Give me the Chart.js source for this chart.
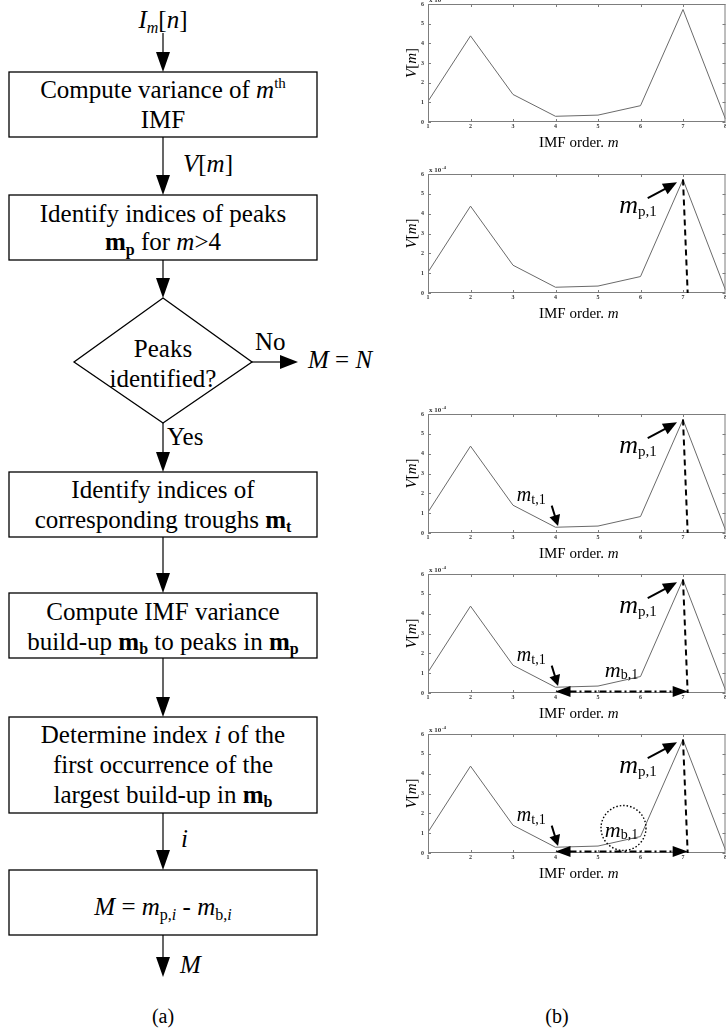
<!DOCTYPE html>
<html>
<head>
<meta charset="utf-8">
<script src="https://cdn.jsdelivr.net/npm/chart.js@4.4.1/dist/chart.umd.min.js"></script>
<style>
html,body{margin:0;padding:0;background:#fff;overflow:hidden;width:726px;height:1031px;}
#flow{position:absolute;left:0;top:0;}
.cw{position:absolute;left:360px;width:370px;}
tspan,text{fill:#000;}
</style>
</head>
<body>
<svg id="flow" width="726" height="1031" xmlns="http://www.w3.org/2000/svg">
 <g stroke="#000" stroke-width="1.3" fill="none">
  <rect x="9" y="72" width="308" height="65"/>
  <rect x="9" y="195" width="308" height="65"/>
  <polygon points="163,298 252,362 163,423 74,362"/>
  <rect x="9" y="472" width="308" height="65"/>
  <rect x="9" y="593" width="308" height="65"/>
  <rect x="9" y="717" width="308" height="96"/>
  <rect x="9" y="870" width="308" height="65"/>
 </g>
 <g id="arrows" stroke="#000" stroke-width="1.2" fill="#000"></g>
 <g font-family="'Liberation Serif','Times New Roman',serif" font-size="25" fill="#000">
  <g text-anchor="middle">
   <text x="163" y="28"><tspan font-style="italic">I</tspan><tspan font-style="italic" font-size="16" dy="5">m</tspan><tspan dy="-5">[</tspan><tspan font-style="italic">n</tspan>]</text>
   <text x="163" y="98">Compute variance of <tspan font-style="italic">m</tspan><tspan font-size="15" dy="-10">th</tspan></text>
   <text x="163" y="128">IMF</text>
   <text x="163" y="222">Identify indices of peaks</text>
   <text x="163" y="250"><tspan font-weight="bold">m</tspan><tspan font-weight="bold" font-size="16" dy="5">p</tspan><tspan dy="-5"> for </tspan><tspan font-style="italic">m</tspan>&gt;4</text>
   <text x="163" y="357">Peaks</text>
   <text x="163" y="387">identified?</text>
   <text x="163" y="498">Identify indices of</text>
   <text x="163" y="528">corresponding troughs <tspan font-weight="bold">m</tspan><tspan font-weight="bold" font-size="16" dy="4">t</tspan></text>
   <text x="163" y="620">Compute IMF variance</text>
   <text x="163" y="650">build-up <tspan font-weight="bold">m</tspan><tspan font-weight="bold" font-size="16" dy="4">b</tspan><tspan dy="-4"> to peaks in </tspan><tspan font-weight="bold">m</tspan><tspan font-weight="bold" font-size="16" dy="4">p</tspan></text>
   <text x="163" y="743">Determine index <tspan font-style="italic">i</tspan> of the</text>
   <text x="163" y="773">first occurrence of the</text>
   <text x="163" y="803">largest build-up in <tspan font-weight="bold">m</tspan><tspan font-weight="bold" font-size="16" dy="4">b</tspan></text>
   <text x="163" y="915"><tspan font-style="italic">M</tspan> = <tspan font-style="italic">m</tspan><tspan font-size="16" dy="5">p,</tspan><tspan font-size="16" font-style="italic">i</tspan><tspan dy="-5"> - </tspan><tspan font-style="italic">m</tspan><tspan font-size="16" dy="5">b,</tspan><tspan font-size="16" font-style="italic">i</tspan></text>
   <text x="163" y="1023" font-size="20">(a)</text>
   <text x="557" y="1023" font-size="20">(b)</text>
  </g>
  <text x="183" y="172"><tspan font-style="italic">V</tspan>[<tspan font-style="italic">m</tspan>]</text>
  <text x="255" y="350">No</text>
  <text x="308" y="368"><tspan font-style="italic">M</tspan> = <tspan font-style="italic">N</tspan></text>
  <text x="167" y="445">Yes</text>
  <text x="181" y="847" font-style="italic">i</text>
  <text x="180" y="973" font-style="italic">M</text>
 </g>
</svg>

<div class="cw" id="c1"><canvas></canvas></div>
<div class="cw" id="c2"><canvas></canvas></div>
<div class="cw" id="c3"><canvas></canvas></div>
<div class="cw" id="c4"><canvas></canvas></div>
<div class="cw" id="c5"><canvas></canvas></div>

<script>
// ---------------- data ----------------
const imfOrder = [1, 2, 3, 4, 5, 6, 7, 8];
const varianceE4 = [1.05, 4.38, 1.40, 0.29, 0.35, 0.83, 5.72, 0.15]; // V[m] in units of 10^-4
const xTickValues = [1, 2, 3, 4, 5, 6, 7, 8];
const yTickValues = [0, 1, 2, 3, 4, 5, 6];
const yExponentLabel = ['x 10', '-4'];
const xAxisTitle = ['IMF order. ', 'm'];
const peakOrder = 7;     // m_p,1
const troughOrder = 4;   // m_t,1

// ---------------- flowchart arrows ----------------
(function () {
  const g = document.getElementById('arrows');
  const NS = 'http://www.w3.org/2000/svg';
  function vArrow(x, y1, y2) {
    const l = document.createElementNS(NS, 'line');
    l.setAttribute('x1', x); l.setAttribute('x2', x);
    l.setAttribute('y1', y1); l.setAttribute('y2', y2 - 18);
    g.appendChild(l);
    const p = document.createElementNS(NS, 'polygon');
    p.setAttribute('points', `${x - 7},${y2 - 20} ${x + 7},${y2 - 20} ${x},${y2}`);
    p.setAttribute('stroke', 'none');
    g.appendChild(p);
  }
  function hArrow(y, x1, x2) {
    const l = document.createElementNS(NS, 'line');
    l.setAttribute('y1', y); l.setAttribute('y2', y);
    l.setAttribute('x1', x1); l.setAttribute('x2', x2 - 16);
    g.appendChild(l);
    const p = document.createElementNS(NS, 'polygon');
    p.setAttribute('points', `${x2 - 18},${y - 7} ${x2 - 18},${y + 7} ${x2},${y}`);
    p.setAttribute('stroke', 'none');
    g.appendChild(p);
  }
  [[33, 72], [137, 195], [260, 298], [423, 472], [537, 593], [658, 717], [813, 870], [935, 977]]
    .forEach(([a, b]) => vArrow(163, a, b));
  hArrow(362, 252, 298);
})();

// ---------------- charts ----------------
const SERIF = '"Liberation Serif","Times New Roman",serif';
const panels = [
  { id: 'c1', top: 4,   bottom: 122, step: 0 },
  { id: 'c2', top: 174, bottom: 293, step: 1 },
  { id: 'c3', top: 414, bottom: 533, step: 2 },
  { id: 'c4', top: 574, bottom: 693, step: 3 },
  { id: 'c5', top: 734, bottom: 853, step: 4 }
];
const PAD_TOP = 14, X_AXIS_H = 30;

// annotation anchors (data coordinates)
const ann = {
  mpLabel: [5.5, 4.05], mpArrow: [[6.17, 4.78], [6.86, 5.58]], peakLineEnd: 7.11,
  mtLabel: [3.09, 1.6], mtArrow: [[3.91, 1.38], [4.06, 0.35]],
  mbLabel: [5.16, 0.82], buildY: 0.07, buildEnd: 7.11,
  circle: [5.6, 1.26]
};

function arrow(ctx, x1, y1, x2, y2, len, hw, lw) {
  const ang = Math.atan2(y2 - y1, x2 - x1);
  const c = Math.cos(ang), s = Math.sin(ang);
  const bx = x2 - len * c, by = y2 - len * s;
  ctx.setLineDash([]);
  ctx.lineWidth = lw;
  ctx.beginPath(); ctx.moveTo(x1, y1); ctx.lineTo(bx + c, by + s); ctx.stroke();
  ctx.beginPath(); ctx.moveTo(x2, y2);
  ctx.lineTo(bx + hw * s, by - hw * c);
  ctx.lineTo(bx - hw * s, by + hw * c);
  ctx.closePath(); ctx.fill();
}
function subLabel(ctx, x, y, main, sub, mainSize, subSize, shift) {
  ctx.textAlign = 'left'; ctx.textBaseline = 'alphabetic';
  ctx.font = `italic ${mainSize}px ${SERIF}`;
  ctx.fillText(main, x, y);
  const w = ctx.measureText(main).width;
  ctx.font = `${subSize}px ${SERIF}`;
  ctx.fillText(sub, x + w, y + shift);
}

const figPlugin = {
  id: 'fig',
  afterDraw(chart) {
    const step = chart.options.plugins.fig.step;
    const { ctx, chartArea: a, scales: { x, y } } = chart;
    const X = v => x.getPixelForValue(v), Y = v => y.getPixelForValue(v);
    ctx.save();
    // frame + inward ticks
    ctx.strokeStyle = '#7d7d7d'; ctx.lineWidth = 1;
    ctx.strokeRect(a.left + 0.5, a.top + 0.5, a.right - a.left - 1, a.bottom - a.top - 1);
    ctx.beginPath();
    xTickValues.forEach(v => {
      const px = Math.round(X(v)) + 0.5;
      ctx.moveTo(px, a.bottom); ctx.lineTo(px, a.bottom - 3);
      ctx.moveTo(px, a.top); ctx.lineTo(px, a.top + 3);
    });
    yTickValues.forEach(v => {
      const py = Math.round(Y(v)) + 0.5;
      ctx.moveTo(a.left, py); ctx.lineTo(a.left + 3, py);
      ctx.moveTo(a.right, py); ctx.lineTo(a.right - 3, py);
    });
    ctx.stroke();

    // exponent label
    ctx.fillStyle = '#333';
    ctx.textAlign = 'left'; ctx.textBaseline = 'middle';
    ctx.font = `bold 7px ${SERIF}`;
    ctx.fillText(yExponentLabel[0], a.left + 1, a.top - 4);
    const ew = ctx.measureText(yExponentLabel[0]).width;
    ctx.font = `bold 5px ${SERIF}`;
    ctx.fillText(yExponentLabel[1], a.left + 1.5 + ew, a.top - 6.5);

    // axis titles
    ctx.fillStyle = '#000';
    ctx.textBaseline = 'middle';
    ctx.font = `15px ${SERIF}`;
    const w1 = ctx.measureText(xAxisTitle[0]).width;
    ctx.font = `italic 15px ${SERIF}`;
    const w2 = ctx.measureText(xAxisTitle[1]).width;
    const cx = (a.left + a.right) / 2 + 2;
    let tx = cx - (w1 + w2) / 2;
    const ty = a.bottom + 21;
    ctx.font = `15px ${SERIF}`; ctx.fillText(xAxisTitle[0], tx, ty);
    ctx.font = `italic 15px ${SERIF}`; ctx.fillText(xAxisTitle[1], tx + w1, ty);

    ctx.save();
    ctx.translate(a.left - 16, (a.top + a.bottom) / 2);
    ctx.rotate(-Math.PI / 2);
    const parts = [['V', true], ['[', false], ['m', true], [']', false]];
    let tw = 0;
    parts.forEach(p => { ctx.font = `${p[1] ? 'italic ' : ''}15px ${SERIF}`; tw += ctx.measureText(p[0]).width; });
    let px0 = -tw / 2;
    parts.forEach(p => {
      ctx.font = `${p[1] ? 'italic ' : ''}15px ${SERIF}`;
      ctx.fillText(p[0], px0, 0);
      px0 += ctx.measureText(p[0]).width;
    });
    ctx.restore();

    ctx.fillStyle = '#000'; ctx.strokeStyle = '#000';
    if (step >= 1) {
      const py = varianceE4[peakOrder - 1];
      ctx.lineWidth = 2; ctx.setLineDash([6, 4]);
      ctx.beginPath(); ctx.moveTo(X(peakOrder), Y(py)); ctx.lineTo(X(ann.peakLineEnd), Y(0)); ctx.stroke();
      const [s, e] = ann.mpArrow;
      arrow(ctx, X(s[0]), Y(s[1]), X(e[0]), Y(e[1]), 14, 6, 2);
      subLabel(ctx, X(ann.mpLabel[0]), Y(ann.mpLabel[1]), 'm', 'p,1', 26, 15, 3);
    }
    if (step >= 2) {
      const [s, e] = ann.mtArrow;
      arrow(ctx, X(s[0]), Y(s[1]), X(e[0]), Y(e[1]), 11, 5.5, 2);
      subLabel(ctx, X(ann.mtLabel[0]), Y(ann.mtLabel[1]), 'm', 't,1', 20, 14, 3);
    }
    if (step >= 3) {
      const yy = Y(ann.buildY), xl = X(troughOrder), xr = X(ann.buildEnd);
      ctx.lineWidth = 2; ctx.setLineDash([7, 3, 2, 3]);
      ctx.beginPath(); ctx.moveTo(xl + 14, yy); ctx.lineTo(xr - 14, yy); ctx.stroke();
      arrow(ctx, xl + 15, yy, xl, yy, 15, 5.5, 2);
      arrow(ctx, xr - 15, yy, xr, yy, 15, 5.5, 2);
      subLabel(ctx, X(ann.mbLabel[0]), Y(ann.mbLabel[1]), 'm', 'b,1', 22, 14, 2);
    }
    if (step >= 4) {
      ctx.lineWidth = 1.4; ctx.setLineDash([1.5, 2]);
      ctx.beginPath(); ctx.arc(X(ann.circle[0]), Y(ann.circle[1]), 22.5, 0, Math.PI * 2); ctx.stroke();
    }
    ctx.restore();
  }
};

panels.forEach(p => {
  const box = document.getElementById(p.id);
  box.style.top = (p.top - PAD_TOP) + 'px';
  box.style.height = (p.bottom - p.top + PAD_TOP + X_AXIS_H) + 'px';
  new Chart(box.querySelector('canvas'), {
    type: 'line',
    data: {
      datasets: [{
        data: imfOrder.map((m, i) => ({ x: m, y: varianceE4[i] })),
        borderColor: '#6a6a6a', borderWidth: 1, pointRadius: 0, tension: 0, fill: false
      }]
    },
    options: {
      responsive: true, maintainAspectRatio: false, animation: false,
      layout: { padding: { top: PAD_TOP, right: 4.5, left: 0, bottom: 0 } },
      plugins: { legend: { display: false }, tooltip: { enabled: false }, fig: { step: p.step } },
      scales: {
        x: {
          type: 'linear', min: 1, max: 8,
          afterFit: s => { s.height = X_AXIS_H; },
          grid: { display: false, drawTicks: false }, border: { display: false },
          afterBuildTicks: s => { s.ticks = xTickValues.map(v => ({ value: v })); },
          ticks: { padding: 1, maxRotation: 0, autoSkip: false, color: '#333',
                   font: { size: 6, family: SERIF, weight: 'bold' } }
        },
        y: {
          min: 0, max: 6,
          afterFit: s => { s.width = 68; },
          grid: { display: false, drawTicks: false }, border: { display: false },
          afterBuildTicks: s => { s.ticks = yTickValues.map(v => ({ value: v })); },
          ticks: { padding: 4, color: '#333', font: { size: 6, family: SERIF, weight: 'bold' } }
        }
      }
    },
    plugins: [figPlugin]
  });
});
</script>
</body>
</html>
